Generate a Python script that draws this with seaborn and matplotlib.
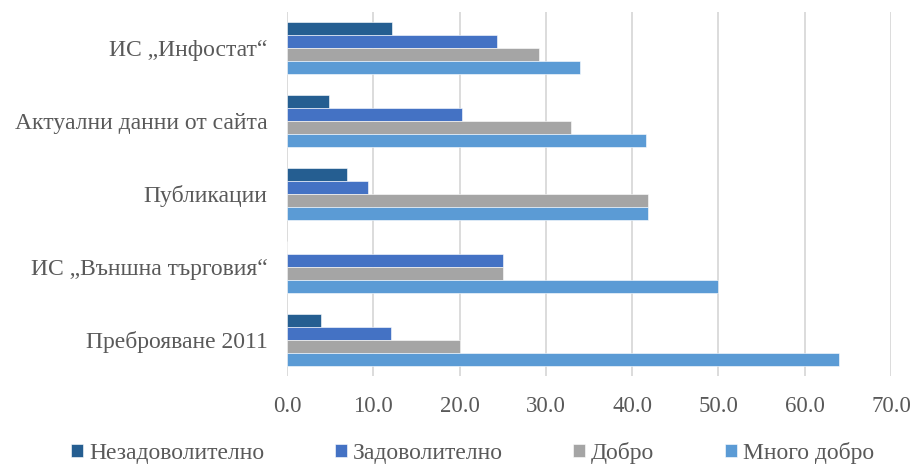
import matplotlib
matplotlib.use("Agg")
import matplotlib.pyplot as plt
import seaborn as sns
import pandas as pd

categories = ["ИС „Инфостат“", "Актуални данни от сайта", "Публикации",
              "ИС „Външна търговия“", "Преброяване 2011"]
series_names = ["Незадоволително", "Задоволително", "Добро", "Много добро"]
unsatisfactory = [12.2, 4.9, 7.0, 0.0, 4.0]
satisfactory = [24.3, 20.3, 9.4, 25.0, 12.0]
good = [29.2, 32.9, 41.8, 25.0, 20.0]
very_good = [34.0, 41.6, 41.8, 50.0, 64.0]
x_ticks = [0, 10, 20, 30, 40, 50, 60, 70]

colors = ["#255E91", "#4472C4", "#A5A5A5", "#5B9BD5"]

rows = []
for name, vals in zip(series_names, [unsatisfactory, satisfactory, good, very_good]):
    for cat, v in zip(categories, vals):
        rows.append({"category": cat, "series": name, "value": v})
df = pd.DataFrame(rows)

sns.set_style("white")
plt.rcParams["font.family"] = ["Liberation Serif", "DejaVu Serif"]

fig = plt.figure(figsize=(9.16, 4.65), dpi=100)
ax = fig.add_axes([0.3133, 0.191, 0.6594, 0.784])

sns.barplot(data=df, y="category", x="value", hue="series", orient="h",
            order=categories, hue_order=series_names, palette=colors,
            saturation=1, width=0.71, ax=ax, legend=True,
            edgecolor="#FFFFFF", linewidth=0.4)

ax.set_xlim(0, 70)
ax.set_xticks(x_ticks)
ax.set_xticklabels([f"{t:.1f}" for t in x_ticks])
ax.set_xlabel("")
ax.set_ylabel("")
ax.grid(axis="x", color="#D9D9D9", linewidth=1.3)
ax.set_axisbelow(True)
for s in ax.spines.values():
    s.set_visible(False)
ax.tick_params(axis="y", length=0, labelsize=17, colors="#595959", pad=14)
ax.tick_params(axis="x", length=0, labelsize=16.5, colors="#595959", pad=14)

handles, labels = ax.get_legend_handles_labels()
ax.get_legend().remove()
fig.legend(handles, labels, loc="center", bbox_to_anchor=(0.516, 12 / 465),
           ncol=4, frameon=False, fontsize=17, handlelength=0.5,
           handleheight=0.5, handletextpad=0.25, columnspacing=3.0,
           labelcolor="#595959", borderpad=0)

fig.savefig("out.png", dpi=100)
